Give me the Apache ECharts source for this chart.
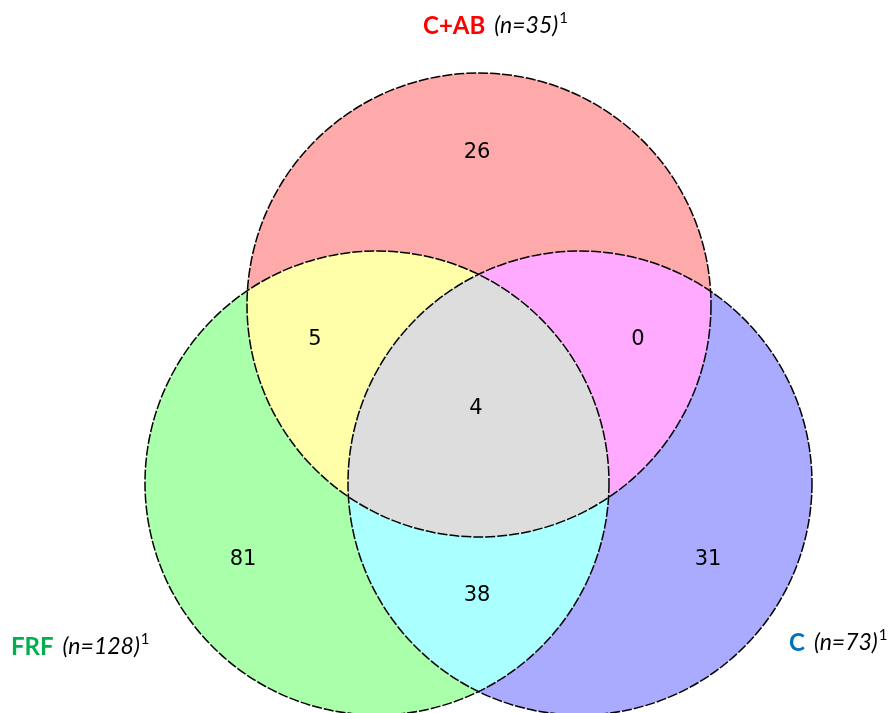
<!DOCTYPE html>
<html>
<head>
<meta charset="utf-8">
<script src="https://cdn.jsdelivr.net/npm/echarts@6/dist/echarts.min.js"></script>
<style>
  html, body { margin: 0; padding: 0; background: #fff; }
  #chart { width: 889px; height: 713px; }
</style>
</head>
<body>
<div id="chart"></div>
<script>
// sets
const setNames = ["C+AB", "FRF", "C"];
const setSizes = [35, 128, 73];

// regions: membership in (C+AB, FRF, C) and their counts
const regionMasks = [[1, 0, 0], [0, 1, 0], [0, 0, 1], [1, 1, 0], [1, 0, 1], [0, 1, 1], [1, 1, 1]];
const regionCounts = [26, 81, 31, 5, 0, 38, 4];

// layout, in the plot's own units
const circleX = [479, 377, 580];
const circleY = [305, 483, 483];
const circleR = [232, 232, 232];
const labelX = [477, 243, 708, 315, 638, 477, 476];
const labelY = [151, 558, 558, 338, 338, 594, 407];

// styles
const baseFill = ["#FFAAAA", "#AAFFAA", "#AAAAFF"];
const pairs = [[0, 1], [0, 2], [1, 2]];
const pairFill = ["#FFFFAA", "#FFAAFF", "#AAFFFF"];
const tripleFill = "#DDDDDD";
const nameColors = ["#FF0000", "#00B050", "#0070C0"];

// geometry helpers (pixels)
function px(i, api) {
  const c = api.coord([circleX[i], circleY[i]]);
  return { x: c[0], y: c[1], r: api.size([circleR[i], 0])[0] };
}
function intersect(a, b) {
  const dx = b.x - a.x, dy = b.y - a.y, d = Math.hypot(dx, dy);
  const l = (a.r * a.r - b.r * b.r + d * d) / (2 * d);
  const h = Math.sqrt(a.r * a.r - l * l);
  const mx = a.x + (l * dx) / d, my = a.y + (l * dy) / d;
  return [
    [mx - (h * dy) / d, my + (h * dx) / d],
    [mx + (h * dy) / d, my - (h * dx) / d],
  ];
}
function arc(c, from, to) {
  const cross = (from[0] - c.x) * (to[1] - c.y) - (from[1] - c.y) * (to[0] - c.x);
  return `A ${c.r} ${c.r} 0 0 ${cross > 0 ? 1 : 0} ${to[0]} ${to[1]}`;
}
function inside(p, c) {
  return Math.hypot(p[0] - c.x, p[1] - c.y) < c.r + 0.5;
}

const chart = echarts.init(document.getElementById("chart"));

function nameTitle(i, left, top) {
  return {
    text: `{a|${setNames[i]}}{b|(n=${setSizes[i]})}{s|1}`,
    left: left,
    top: top,
    padding: 0,
    textStyle: {
      rich: {
        a: { fontFamily: "Lato", fontWeight: "bold", fontSize: 24, lineHeight: 30, color: nameColors[i] },
        b: { fontFamily: "Lato", fontWeight: "normal", fontStyle: "italic", fontSize: 23, lineHeight: 30, color: "#000", padding: [0, 0, 0, 9] },
        s: { fontFamily: "Lato", fontWeight: "normal", fontSize: 15, lineHeight: 22, verticalAlign: "top", color: "#000", padding: [0, 0, 0, 1] },
      },
    },
  };
}

chart.setOption({
  animation: false,
  title: [nameTitle(0, 423, 11), nameTitle(1, 11, 632), nameTitle(2, 789, 628)],
  grid: { left: 0, right: 0, top: 0, bottom: 0 },
  xAxis: { type: "value", min: 0, max: 889, show: false },
  yAxis: { type: "value", min: 0, max: 713, inverse: true, show: false },
  series: [
    {
      // full circles
      type: "custom",
      silent: true,
      clip: false,
      data: circleX.map((x, i) => [x, circleY[i]]),
      renderItem: (params, api) => {
        const c = px(params.dataIndex, api);
        return {
          type: "circle",
          shape: { cx: c.x, cy: c.y, r: c.r },
          style: { fill: baseFill[params.dataIndex] },
        };
      },
    },
    {
      // pairwise overlaps
      type: "custom",
      silent: true,
      clip: false,
      data: pairs,
      renderItem: (params, api) => {
        const [i, j] = pairs[params.dataIndex];
        const a = px(i, api), b = px(j, api);
        const [p, q] = intersect(a, b);
        const d = `M ${p[0]} ${p[1]} ${arc(a, p, q)} ${arc(b, q, p)} Z`;
        return { type: "path", shape: { pathData: d }, style: { fill: pairFill[params.dataIndex] } };
      },
    },
    {
      // triple overlap
      type: "custom",
      silent: true,
      clip: false,
      data: [[0, 0]],
      renderItem: (params, api) => {
        const c = [0, 1, 2].map((i) => px(i, api));
        const x01 = intersect(c[0], c[1]).find((p) => inside(p, c[2]));
        const x02 = intersect(c[0], c[2]).find((p) => inside(p, c[1]));
        const x12 = intersect(c[1], c[2]).find((p) => inside(p, c[0]));
        const d = `M ${x01[0]} ${x01[1]} ${arc(c[0], x01, x02)} ${arc(c[2], x02, x12)} ${arc(c[1], x12, x01)} Z`;
        return { type: "path", shape: { pathData: d }, style: { fill: tripleFill } };
      },
    },
    {
      // dashed outlines
      type: "custom",
      silent: true,
      clip: false,
      data: circleX.map((x, i) => [x, circleY[i]]),
      renderItem: (params, api) => {
        const c = px(params.dataIndex, api);
        return {
          type: "circle",
          shape: { cx: c.x, cy: c.y, r: c.r },
          style: { fill: "none", stroke: "#000", lineWidth: 1.5, lineDash: [10, 2] },
        };
      },
    },
    {
      // counts
      type: "custom",
      silent: true,
      clip: false,
      data: labelX.map((x, i) => [x, labelY[i], regionCounts[i]]),
      renderItem: (params, api) => {
        const p = api.coord([api.value(0), api.value(1)]);
        return {
          type: "text",
          x: p[0],
          y: p[1] + 2,
          style: {
            text: String(api.value(2)),
            fill: "#000",
            font: '21px "DejaVu Sans"',
            align: "center",
            verticalAlign: "middle",
          },
        };
      },
    },
  ],
});
</script>
</body>
</html>
